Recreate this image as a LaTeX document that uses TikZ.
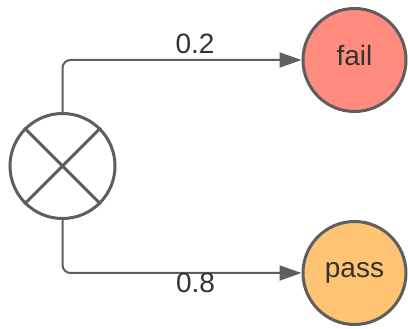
\documentclass[tikz,border=0pt]{standalone}
\usepackage{fontspec}
\setmainfont{Liberation Sans}
\usetikzlibrary{arrows.meta}
\definecolor{strk}{HTML}{5E5E5E}
\definecolor{failc}{HTML}{FF8C7F}
\definecolor{passc}{HTML}{FFC374}
\definecolor{txt}{HTML}{333333}
\tikzset{
  state/.style={circle,draw=strk,line width=3pt,minimum size=103pt,inner sep=0pt},
  gate/.style={circle,draw=strk,line width=3pt,minimum size=105pt,inner sep=0pt,fill=white},
  conn/.style={draw=strk,line width=2pt,rounded corners=8pt,-{Triangle[length=22pt,width=15pt]}},
  lbl/.style={text=txt,font=\fontsize{28}{32}\selectfont,inner sep=0pt,anchor=base},
}
\begin{document}
\begin{tikzpicture}[x=1pt,y=-1pt]
\useasboundingbox (0,0) rectangle (408,329);
\node[gate] (g) at (62.5,166) {};
\draw[strk,line width=3pt] (g.45) -- (g.225) (g.135) -- (g.315);
\node[state,fill=failc] (fail) at (354.5,60) {};
\node[state,fill=passc] (pass) at (354.5,273) {};
\node[lbl] (tf) at (354.5,65.7) {fail};
\node[lbl] (tp) at (354.5,278) {pass};
\coordinate (c1) at (62.5,60);
\coordinate (c2) at (62.5,273);
\draw[conn] (g.north) -- (c1) -- (fail.west);
\draw[conn] (g.south) -- (c2) -- (pass.west);
\node[lbl] (l1) at (195,53.3) {0.2};
\node[lbl] (l2) at (195.5,293) {0.8};
\end{tikzpicture}
\end{document}
